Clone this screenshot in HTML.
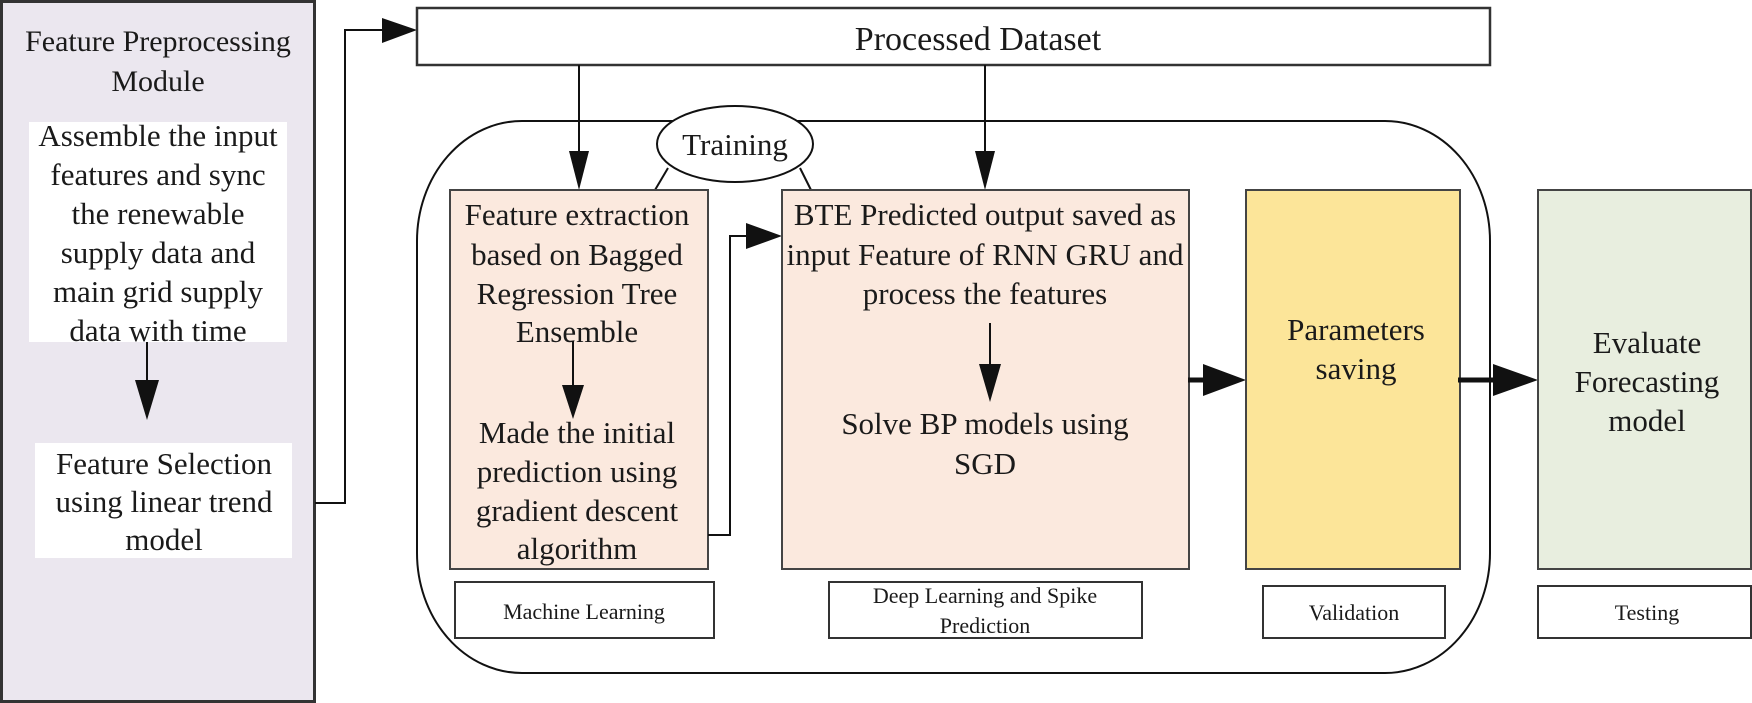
<!DOCTYPE html>
<html><head><meta charset="utf-8"><style>
html,body{margin:0;padding:0;background:#fff;}
svg{display:block;}
text{font-family:"Liberation Serif",serif;fill:#1a1a1a;}
.m{font-size:31px;}
.s{font-size:22px;}
</style></head><body>
<svg width="1752" height="703" viewBox="0 0 1752 703" xmlns="http://www.w3.org/2000/svg">
<!-- left panel -->
<rect x="1.5" y="1.5" width="313" height="700" fill="#ebe7ef" stroke="#333" stroke-width="3"/>
<text class="m" text-anchor="middle" x="158" y="51" style="font-size:30px">Feature Preprocessing</text>
<text class="m" text-anchor="middle" x="158" y="91" style="font-size:30px">Module</text>
<rect x="29" y="122" width="258" height="220" fill="#fff"/>
<g class="m" text-anchor="middle">
<text x="158" y="146">Assemble the input</text>
<text x="158" y="185">features and sync</text>
<text x="158" y="224">the renewable</text>
<text x="158" y="263">supply data and</text>
<text x="158" y="302">main grid supply</text>
<text x="158" y="341">data with time</text>
</g>
<line x1="147" y1="342" x2="147" y2="395" stroke="#111" stroke-width="2"/>
<polygon points="135,380 159,380 147,420" fill="#111"/>
<rect x="35" y="443" width="257" height="115" fill="#fff"/>
<g class="m" text-anchor="middle">
<text x="164" y="474">Feature Selection</text>
<text x="164" y="512">using linear trend</text>
<text x="164" y="550">model</text>
</g>
<!-- connector to dataset -->
<polyline points="315,503 345,503 345,30 385,30" fill="none" stroke="#111" stroke-width="2"/>
<polygon points="382,18 417,30 382,43" fill="#111"/>
<rect x="417" y="8" width="1073" height="57" fill="#fff" stroke="#333" stroke-width="2.5"/>
<text text-anchor="middle" x="978" y="50" style="font-size:34px">Processed Dataset</text>
<!-- container -->
<path d="M522,121 H1385 A105,120 0 0 1 1490,241 V553 A105,120 0 0 1 1385,673 H522 A105,120 0 0 1 417,553 V241 A105,120 0 0 1 522,121 Z" fill="none" stroke="#111" stroke-width="2"/>
<!-- dataset arrows -->
<line x1="579" y1="65" x2="579" y2="160" stroke="#111" stroke-width="2"/>
<polygon points="569,151 589,151 579,190" fill="#111"/>
<line x1="985" y1="65" x2="985" y2="160" stroke="#111" stroke-width="2"/>
<polygon points="975,151 995,151 985,190" fill="#111"/>
<!-- training ellipse -->
<line x1="668" y1="168" x2="655" y2="190" stroke="#111" stroke-width="2"/>
<line x1="800" y1="168" x2="811" y2="190" stroke="#111" stroke-width="2"/>
<ellipse cx="735" cy="144" rx="78" ry="38" fill="#fff" stroke="#111" stroke-width="2"/>
<text class="m" text-anchor="middle" x="735" y="155">Training</text>
<!-- ML box -->
<rect x="450" y="190" width="258" height="379" fill="#fbe9de" stroke="#444" stroke-width="2"/>
<g class="m" text-anchor="middle">
<text x="577" y="225">Feature extraction</text>
<text x="577" y="265">based on Bagged</text>
<text x="577" y="304">Regression Tree</text>
<text x="577" y="342">Ensemble</text>
<text x="577" y="443">Made the initial</text>
<text x="577" y="482">prediction using</text>
<text x="577" y="521">gradient descent</text>
<text x="577" y="559">algorithm</text>
</g>
<line x1="573" y1="341" x2="573" y2="395" stroke="#111" stroke-width="2"/>
<polygon points="562,385 584,385 573,419" fill="#111"/>
<polyline points="708,535 730,535 730,236 750,236" fill="none" stroke="#111" stroke-width="2"/>
<polygon points="746,223 782,236 746,249" fill="#111"/>
<!-- DL box -->
<rect x="782" y="190" width="407" height="379" fill="#fbe9de" stroke="#444" stroke-width="2"/>
<g class="m" text-anchor="middle">
<text x="985" y="225">BTE Predicted output saved as</text>
<text x="985" y="265">input Feature of RNN GRU and</text>
<text x="985" y="304">process the features</text>
<text x="985" y="434">Solve BP models using</text>
<text x="985" y="474">SGD</text>
</g>
<line x1="990" y1="323" x2="990" y2="375" stroke="#111" stroke-width="2"/>
<polygon points="979,364 1001,364 990,402" fill="#111"/>
<!-- arrow to validation -->
<line x1="1188" y1="380" x2="1210" y2="380" stroke="#111" stroke-width="5"/>
<polygon points="1203,364 1246,380 1203,396" fill="#111"/>
<rect x="1246" y="190" width="214" height="379" fill="#fce599" stroke="#444" stroke-width="2"/>
<text class="m" text-anchor="middle" x="1356" y="340">Parameters</text>
<text class="m" text-anchor="middle" x="1356" y="379">saving</text>
<line x1="1458" y1="380" x2="1500" y2="380" stroke="#111" stroke-width="5"/>
<polygon points="1493,364 1538,380 1493,396" fill="#111"/>
<rect x="1538" y="190" width="213" height="379" fill="#e8eedf" stroke="#444" stroke-width="2"/>
<text class="m" text-anchor="middle" x="1647" y="353">Evaluate</text>
<text class="m" text-anchor="middle" x="1647" y="392">Forecasting</text>
<text class="m" text-anchor="middle" x="1647" y="431">model</text>
<!-- labels -->
<rect x="455" y="582" width="259" height="56" fill="#fff" stroke="#333" stroke-width="2"/>
<text class="s" text-anchor="middle" x="584" y="619">Machine Learning</text>
<rect x="829" y="582" width="313" height="56" fill="#fff" stroke="#333" stroke-width="2"/>
<text class="s" text-anchor="middle" x="985" y="603">Deep Learning and Spike</text>
<text class="s" text-anchor="middle" x="985" y="633">Prediction</text>
<rect x="1263" y="586" width="182" height="52" fill="#fff" stroke="#333" stroke-width="2"/>
<text class="s" text-anchor="middle" x="1354" y="620">Validation</text>
<rect x="1538" y="586" width="213" height="52" fill="#fff" stroke="#333" stroke-width="2"/>
<text class="s" text-anchor="middle" x="1647" y="620">Testing</text>
</svg>
</body></html>
